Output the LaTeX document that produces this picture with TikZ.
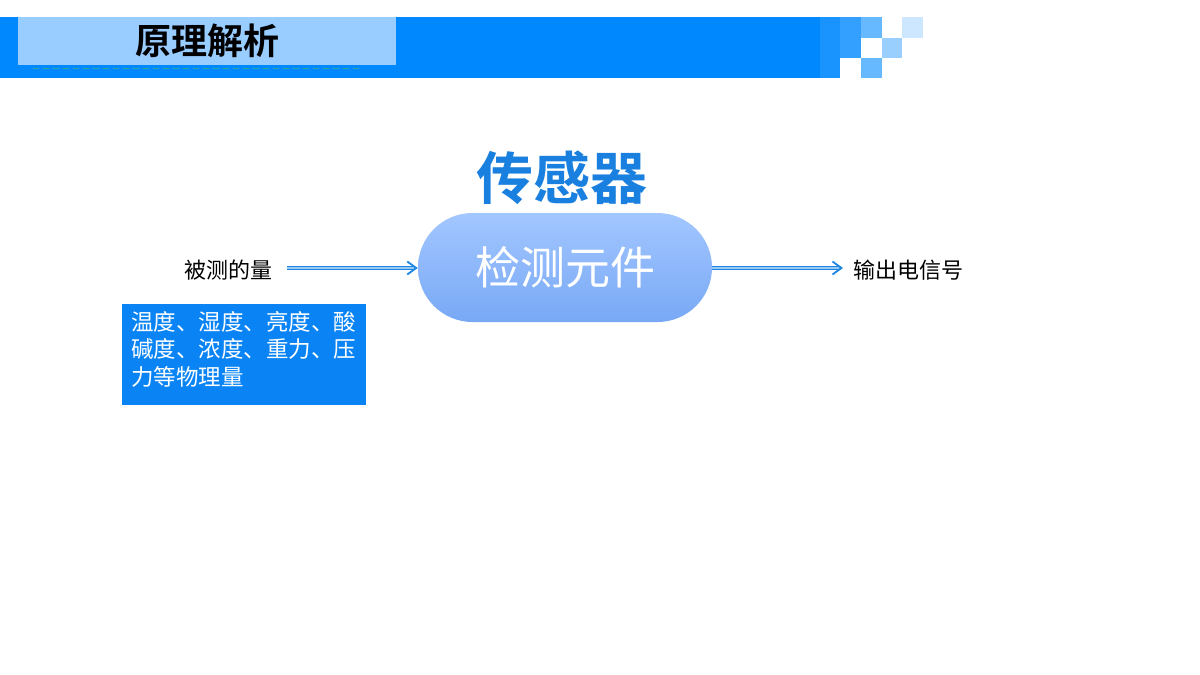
\documentclass[tikz,border=0pt]{standalone}
\usepackage{fontspec}
\usetikzlibrary{arrows.meta,shapes.misc}
\newfontfamily\cjk{Noto Sans CJK SC}
\newfontfamily\cjkb{Noto Sans CJK SC Bold}
\definecolor{hdr}{HTML}{0088FF}
\definecolor{hdrlight}{HTML}{99CCFF}
\definecolor{titleblue}{HTML}{1A80E0}
\definecolor{pilltop}{HTML}{A3C7FF}
\definecolor{pillbot}{HTML}{78A8F5}
\definecolor{boxblue}{HTML}{0A84F5}
\definecolor{arrblue}{HTML}{1C86E0}
\definecolor{dashteal}{HTML}{2EA8A0}
\tikzset{
  flow/.style={draw=arrblue, line width=1.1pt, double=arrblue!45, double distance=1.1pt, -{Straight Barb[length=9pt,width=13pt,line width=1.8pt]}},
  plain/.style={font=\cjk\fontsize{22}{26}\selectfont, text=black, inner sep=0pt},
}
\begin{document}
\begin{tikzpicture}[x=1pt,y=-1pt]
\useasboundingbox (0,0) rectangle (1200,675);
\fill[white] (0,0) rectangle (1200,675);
% header
\fill[hdr] (0,17) rectangle (820,78);
\fill[hdr!90!white] (820,17) rectangle (840,78);
\fill[hdr!80!white] (840,17) rectangle (861,58);
\fill[hdr!60!white] (861,17) rectangle (882,38);
\fill[hdr!40!white] (882,38) rectangle (902,58);
\fill[hdr!20!white] (902,17) rectangle (923,38);
\fill[hdr!60!white] (861,58) rectangle (882,78);
\fill[hdrlight] (18,17) rectangle (396,65);
\draw[dashteal, dash pattern=on 6pt off 4pt, line width=0.8pt] (33,68.5) -- (362,68.5);
\node[font=\cjkb\fontsize{36}{40}\selectfont, text=black, inner sep=0pt] (hdrt) at (207,41) {原理解析};
% title
\node[font=\cjkb\fontsize{57}{62}\selectfont, text=titleblue, inner sep=0pt] (title) at (562,178) {传感器};
% pill
\node[rounded rectangle, minimum width=294pt, minimum height=109pt, inner sep=0pt,
      top color=pilltop, bottom color=pillbot, draw=none,
      font=\cjk\fontsize{45}{50}\selectfont, text=white] (pill) at (565,267.5) {检测元件};
% left and right texts
\node[plain] (inq) at (228,270) {被测的量};
\node[plain] (outq) at (908,270) {输出电信号};
\coordinate (a1) at (287,268);
\draw[flow] (a1) -- (pill.west |- a1);
\draw[flow] (pill.east |- a1) -- (843,268);
% blue box
\node[fill=boxblue, minimum width=244pt, minimum height=101pt, inner sep=0pt] (box) at (244,354.5) {};
\node[anchor=north west, inner sep=0pt, text=white, font=\cjk\fontsize{22.5}{27.5}\selectfont, align=left] (boxt) at (131,311)
  {温度、湿度、亮度、酸\\碱度、浓度、重力、压\\力等物理量};
\end{tikzpicture}
\end{document}
